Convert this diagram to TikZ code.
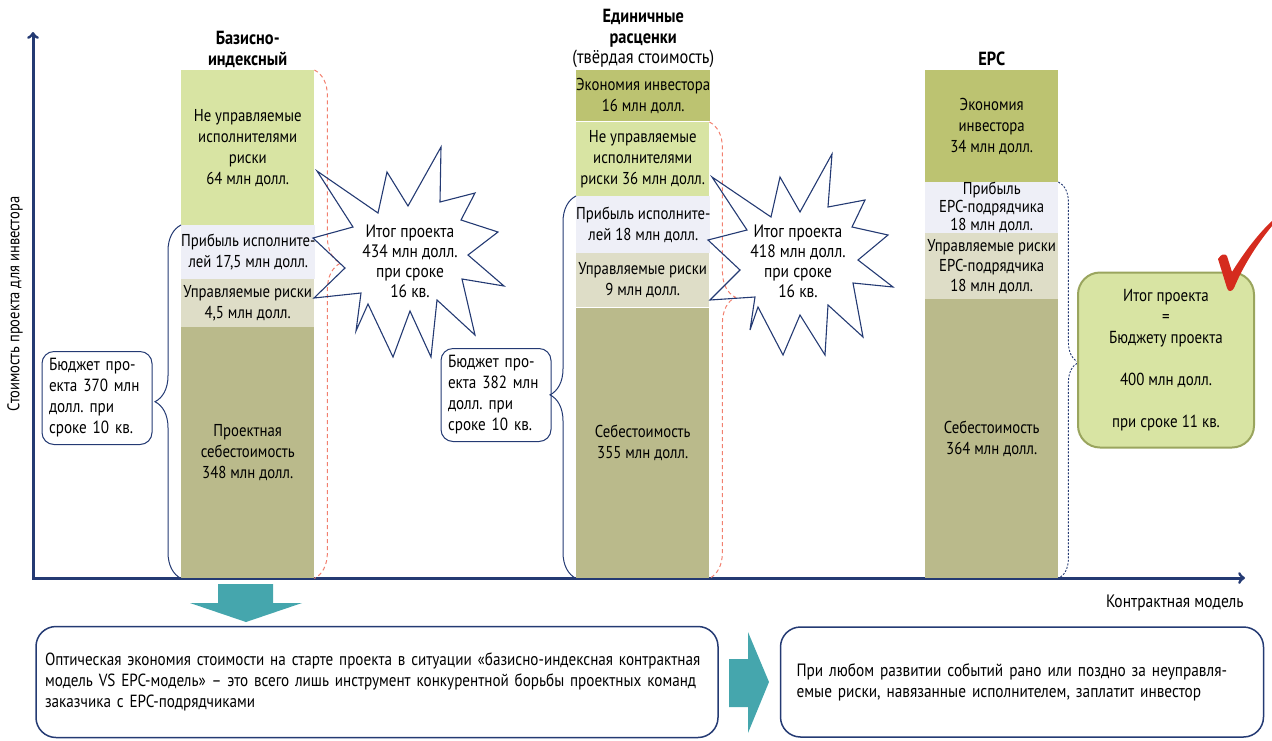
\documentclass[tikz,border=0pt]{standalone}
\usepackage{fontspec}
\setmainfont{PT Sans}[FakeStretch=0.86]
\usepackage{tikz}
\usetikzlibrary{%
  arrows,%
  positioning,% wg. " of "
  decorations.pathreplacing% brace
}
\frenchspacing

\definecolor{navy}{HTML}{243A73}
\definecolor{riskgreen}{HTML}{D8E4A3}
\definecolor{savegreen}{HTML}{BCC371}
\definecolor{lilac}{HTML}{EEEFF7}
\definecolor{beige}{HTML}{DEDDC7}
\definecolor{khaki}{HTML}{BABA8B}
\definecolor{salmon}{HTML}{F2806F}
\definecolor{arrowteal}{HTML}{45A6AD}
\definecolor{oliveline}{HTML}{9AA55E}
\definecolor{tickred}{HTML}{D52B1E}

\begin{document}
\begin{tikzpicture}[x=1pt,y=-1pt,
  seg/.style={anchor=north west,inner sep=0pt,minimum width=133pt,
    align=center,font=\fontsize{17.2}{21}\selectfont},
  head/.style={align=center,inner sep=1pt,font=\fontsize{19}{21}\selectfont\bfseries},
  budget/.style={draw=navy,line width=1pt,rounded corners=12pt,align=left,
    minimum width=110pt,minimum height=93pt,text width=96pt,inner xsep=7pt,
    font=\fontsize{17.6}{21}\selectfont},
  bluebrace/.style={draw=navy,line width=1pt,decorate,
    decoration={brace,amplitude=26pt,aspect=#1}},
  redbrace/.style={draw=salmon,line width=1pt,dash pattern=on 4pt off 3pt,decorate,
    decoration={brace,amplitude=26pt,aspect=#1}},
  star/.style={draw=navy,line width=1.1pt,line join=miter},
  startext/.style={align=center,font=\fontsize{18}{20}\selectfont},
  note/.style={draw=navy,line width=1.5pt,rounded corners=20pt,align=left,
    font=\fontsize{17.8}{21}\selectfont},
  axis/.style={draw=navy,line width=3pt}
]
\useasboundingbox (0,0) rectangle (1272,740);

% axes
\coordinate (O) at (33,578);
\draw[axis,<->] (33,32) -- (O) -- (1245,578);
\node[rotate=90,font=\fontsize{16.9}{18}\selectfont] (ylab) at (15,304)
  {Стоимость проекта для инвестора};
\node[anchor=east,font=\fontsize{18}{18}\selectfont] (xlab) at (1247,603)
  {Контрактная модель};

% basisno-indeksnyj
\node[seg,fill=riskgreen,minimum height=155pt] (a1) at (181,70)
  {Не управляемые\\исполнителями\\риски\\64 млн долл.};
\node[seg,fill=lilac,minimum height=54pt] (a2) at (181,225)
  {Прибыль исполните-\\лей 17,5 млн долл.};
\node[seg,fill=beige,minimum height=48pt] (a3) at (181,279)
  {Управляемые риски\\4,5 млн долл.};
\node[seg,fill=khaki,minimum height=251pt] (a4) at (181,327)
  {Проектная\\себестоимость\\348 млн долл.};
\node[head,above=1pt of a1] (h1) {Базисно-\\индексный};

% edinichnye rascenki
\node[seg,fill=savegreen,minimum height=51pt] (b1) at (576,70)
  {Экономия инвестора\\16 млн долл.};
\node[seg,fill=riskgreen,minimum height=74pt] (b2) at (576,122)
  {Не управляемые\\исполнителями\\риски 36 млн долл.};
\node[seg,fill=lilac,minimum height=57pt] (b3) at (576,196)
  {Прибыль исполните-\\лей 18 млн долл.};
\node[seg,fill=beige,minimum height=54pt] (b4) at (576,253)
  {Управляемые риски\\9 млн долл.};
\node[seg,fill=khaki,minimum height=270pt] (b5) at (576,308)
  {Себестоимость\\355 млн долл.};
\node[head,above=1pt of b1] (h2)
  {Единичные\\расценки\\[-1pt]{\normalfont (твёрдая стоимость)}};

% EPC
\node[seg,fill=savegreen,minimum height=112pt] (c1) at (925,70)
  {Экономия\\инвестора\\34 млн долл.};
\node[seg,fill=lilac,minimum height=51pt,font=\fontsize{17.2}{18}\selectfont] (c2) at (925,182)
  {Прибыль\\EPC-подрядчика\\18 млн долл.};
\node[seg,fill=beige,minimum height=66pt,font=\fontsize{17.2}{20}\selectfont] (c3) at (925,233)
  {Управляемые риски\\EPC-подрядчика\\18 млн долл.};
\node[seg,fill=khaki,minimum height=279pt] (c4) at (925,299)
  {Себестоимость\\364 млн долл.};
\node[head,above=3pt of c1] (h3) {EPC};

% budgets and braces
\node[budget] (bud1) at (97,398) {Бюджет про-\\екта 370 млн\\долл. при\\сроке 10 кв.};
\node[budget] (bud2) at (496,395) {Бюджет про-\\екта 382 млн\\долл. при\\сроке 10 кв.};
\draw[bluebrace=0.5] (a4.south west) -- (a2.north west);
\draw[bluebrace=0.48] (b5.south west) -- (b3.north west);
\draw[redbrace=0.38] (a1.north east) -- (a4.south east);
\draw[redbrace=0.384] (b2.north east) -- (b5.south east);
\draw[draw=navy,line width=0.9pt,dash pattern=on 2pt off 1.5pt,decorate,
  decoration={brace,amplitude=20pt,aspect=0.455}] (c2.north east) -- (c4.south east);

% stars
\draw[star] (317,171) -- (378,213) -- (387,172) -- (408,206) -- (441,147)
  -- (440,202) -- (475,193) -- (461,220) -- (498,232) -- (468,255)
  -- (504,286) -- (462,279) -- (475,335) -- (437,300) -- (431,357)
  -- (410,311) -- (393,357) -- (368,304) -- (356,331) -- (361,293)
  -- (314,298) -- (345,268) -- (313,238) -- (353,227) -- cycle;
\node[startext] (s1) at (410,261) {Итог проекта\\434 млн долл.\\при сроке\\16 кв.};
\draw[star] (712,177) -- (771,217) -- (780,177) -- (800,212) -- (832,154)
  -- (828,207) -- (865,200) -- (852,227) -- (888,235) -- (858,260)
  -- (893,287) -- (853,283) -- (863,337) -- (828,305) -- (825,355)
  -- (800,315) -- (783,355) -- (758,307) -- (750,330) -- (755,297)
  -- (710,300) -- (740,270) -- (708,240) -- (747,230) -- cycle;
\node[startext] (s2) at (798,261) {Итог проекта\\418 млн долл.\\при сроке\\16 кв.};

% result EPC
\node[draw=oliveline,fill=riskgreen,line width=2pt,rounded corners=22pt,
  minimum width=176pt,minimum height=175pt,align=center,
  font=\fontsize{17.4}{21}\selectfont] (res) at (1166,360)
  {Итог проекта\\=\\Бюджету проекта\\[21pt]400 млн долл.\\[21pt]при сроке 11 кв.};
\fill[tickred] (1218,259) .. controls (1221,254) and (1225,253) .. (1227,256)
  -- (1232,272) .. controls (1245,251) and (1259,233) .. (1272,221)
  -- (1272,226) .. controls (1258,243) and (1244,264) .. (1234,288)
  .. controls (1232,292) and (1228,292) .. (1227,288) -- cycle;

% bottom
\fill[arrowteal] (218,584) -- (273,584) -- (273,603) -- (302,603) -- (246,622)
  -- (190,603) -- (218,603) -- cycle;
\node[note,minimum width=682pt,minimum height=111pt,text width=664pt,inner xsep=9pt,
  font=\fontsize{17.6}{21}\selectfont] (n1) at (377,682)
  {Оптическая экономия стоимости на старте проекта в ситуации «базисно-индексная контрактная\\
   модель VS EPC-модель» – это всего лишь инструмент конкурентной борьбы проектных команд\\
   заказчика с EPC-подрядчиками};
\fill[arrowteal] (729,659) -- (748,659) -- (748,632) -- (769,682) -- (748,733)
  -- (748,707) -- (729,707) -- cycle;
\node[note,minimum width=483pt,minimum height=110pt,text width=451pt] (n2) at (1022,682)
  {При любом развитии событий рано или поздно за неуправля-\\
   емые риски, навязанные исполнителем, заплатит инвестор};
\end{tikzpicture}
\end{document}
